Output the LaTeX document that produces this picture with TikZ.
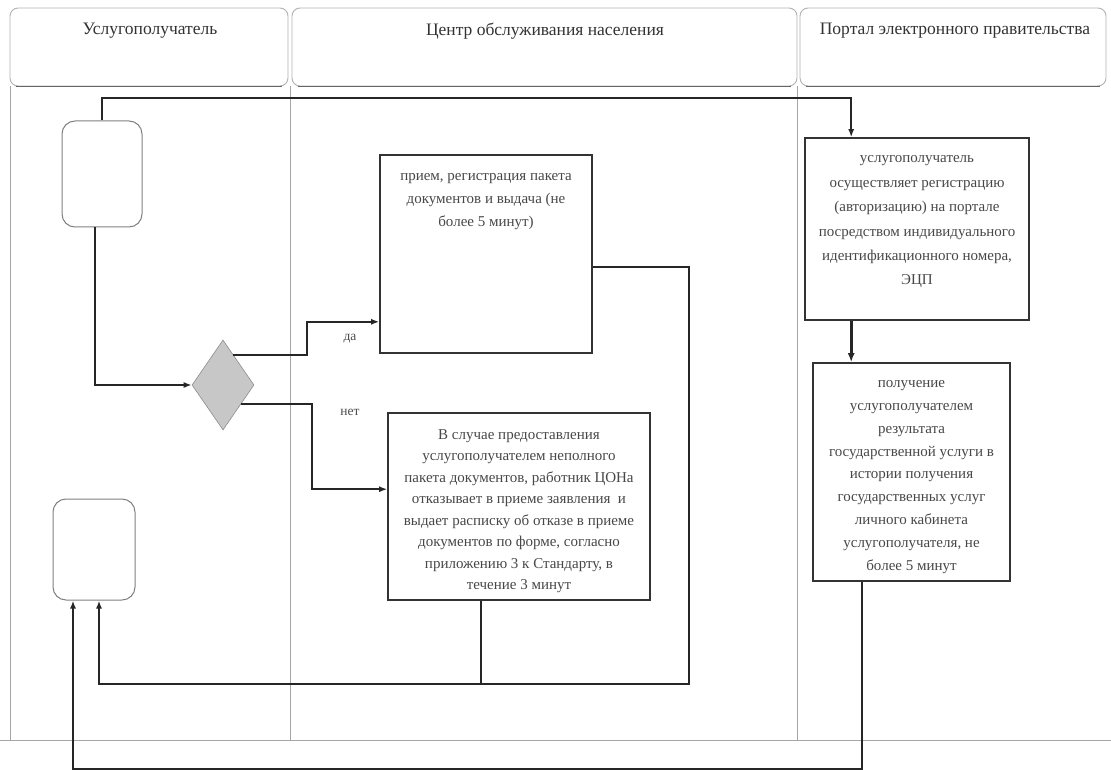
\documentclass[tikz,border=0pt]{standalone}
\usepackage{fontspec}
\setmainfont{Liberation Serif}
\usetikzlibrary{arrows.meta,calc,shapes.geometric}
\begin{document}
\begin{tikzpicture}[x=1pt,y=-1pt,
  lane/.style={draw=black!35, line width=0.8pt},
  head/.style={draw=black!30, line width=0.9pt, rounded corners=8pt, fill=white, inner sep=0pt},
  headedge/.style={draw=black!60, line width=1.8pt},
  headtxt/.style={text=black!80, font=\fontsize{17.5}{20}\selectfont, inner sep=0pt},
  proc/.style={draw=black!80, line width=1.6pt, inner sep=0pt},
  ptxt/.style={text=black!72, align=center, inner sep=0pt},
  term/.style={draw=black!50, line width=1pt, rounded corners=13pt, inner sep=0pt},
  dec/.style={diamond, draw=black!45, fill=black!22, line width=0.6pt, inner sep=0pt},
  conn/.style={draw=black!85, line width=1.8pt},
  flow/.style={conn, -{Latex[length=8pt,width=6pt]}},
  lbl/.style={text=black!70, font=\fontsize{13.5}{15}\selectfont, inner sep=0pt}
]
\useasboundingbox (0,0) rectangle (1111,770);
% headers
\node[head, minimum width=278, minimum height=78] (h1) at (149,47) {};
\node[head, minimum width=505, minimum height=78] (h2) at (544.5,47) {};
\node[head, minimum width=306, minimum height=78] (h3) at (953,47) {};
\draw[headedge] ($(h1.south west)+(6,0)$) -- ($(h1.south east)+(-6,0)$);
\draw[headedge] ($(h2.south west)+(6,0)$) -- ($(h2.south east)+(-6,0)$);
\draw[headedge] ($(h3.south west)+(6,0)$) -- ($(h3.south east)+(-6,0)$);
\node[headtxt] (h1t) at (150,31) {Услугополучатель};
\node[headtxt] (h2t) at (545,31) {Центр обслуживания населения};
\node[headtxt] (h3t) at (955,31) {Портал электронного правительства};
% lanes
\draw[lane] (10,86) -- (10,740);
\draw[lane] (290,86) -- (290,740);
\draw[lane] (797,86) -- (797,740);
\draw[lane] (0,740) -- (1111,740);
% terminals
\node[term, minimum width=80, minimum height=106] (s1) at (102,174) {};
\node[term, minimum width=82, minimum height=101] (s2) at (94,549.5) {};
% decision
\node[dec, minimum width=62, minimum height=90] (d) at (223,385) {};
% process boxes
\node[proc, minimum width=212, minimum height=198] (p1) at (486,254) {};
\node[ptxt, font=\fontsize{15}{23}\selectfont] (p1t) at (486,202) {прием, регистрация пакета\\документов и выдача (не\\более 5 минут)};
\node[proc, minimum width=262, minimum height=187] (p2) at (519,506.5) {};
\node[ptxt, font=\fontsize{15}{21.5}\selectfont] (p2t) at (519,511) {В случае предоставления\\услугополучателем неполного\\пакета документов, работник ЦОНа\\отказывает в приеме заявления\ \ и\\выдает расписку об отказе в приеме\\документов по форме, согласно\\приложению 3 к Стандарту, в\\течение 3 минут};
\node[proc, minimum width=224, minimum height=182] (g1) at (917,229) {};
\node[ptxt, font=\fontsize{15}{24.4}\selectfont] (g1t) at (917,222) {услугополучатель\\осуществляет регистрацию\\(авторизацию) на портале\\посредством индивидуального\\идентификационного номера,\\ЭЦП};
\node[proc, minimum width=197, minimum height=218] (g2) at (911.5,472) {};
\node[ptxt, font=\fontsize{15}{22.9}\selectfont] (g2t) at (911.5,477) {получение\\услугополучателем\\результата\\государственной услуги в\\истории получения\\государственных услуг\\личного кабинета\\услугополучателя, не\\более 5 минут};
% coordinates
\coordinate (g1in) at ($(g1.north west)+(47,0)$);
\coordinate (g1out) at ($(g1.south west)+(47,0)$);
\coordinate (g2out) at ($(g2.south west)+(50,0)$);
\coordinate (p1out) at ($(p1.north east)+(0,113)$);
\coordinate (p2out) at ($(p2.south west)+(94,0)$);
\coordinate (bot) at (689,684);
\coordinate (dout1) at ($(d.north)!0.33!(d.east)$);
\coordinate (dout2) at ($(d.east)!0.42!(d.south)$);
% connectors
\draw[flow] (s1.north) -- (s1.north |- 0,98) -| (g1in);
\draw[flow] ($(s1.south)+(-7,0)$) |- (d.west);
\draw[flow] (dout1) -- ++(74,0) |- ($(p1.south west)+(0,-32)$);
\draw[flow] (dout2) -- ++(71,0) |- ($(p2.north west)+(0,77)$);
\node[lbl] (yes) at (350,339) {да};
\node[lbl] (no) at (350,412) {нет};
\draw[flow] (p1out) -| (bot) -| ($(s2.south)+(5,0)$);
\draw[conn] (p2out) -- (p2out |- bot);
\draw[conn, line width=2.6pt, -{Latex[length=9pt,width=7pt]}] (g1out) -- (g1out |- g2.north);
\draw[flow] (g2out) -- ++(0,187) -| ($(s2.south)+(-21,0)$);
\end{tikzpicture}
\end{document}
